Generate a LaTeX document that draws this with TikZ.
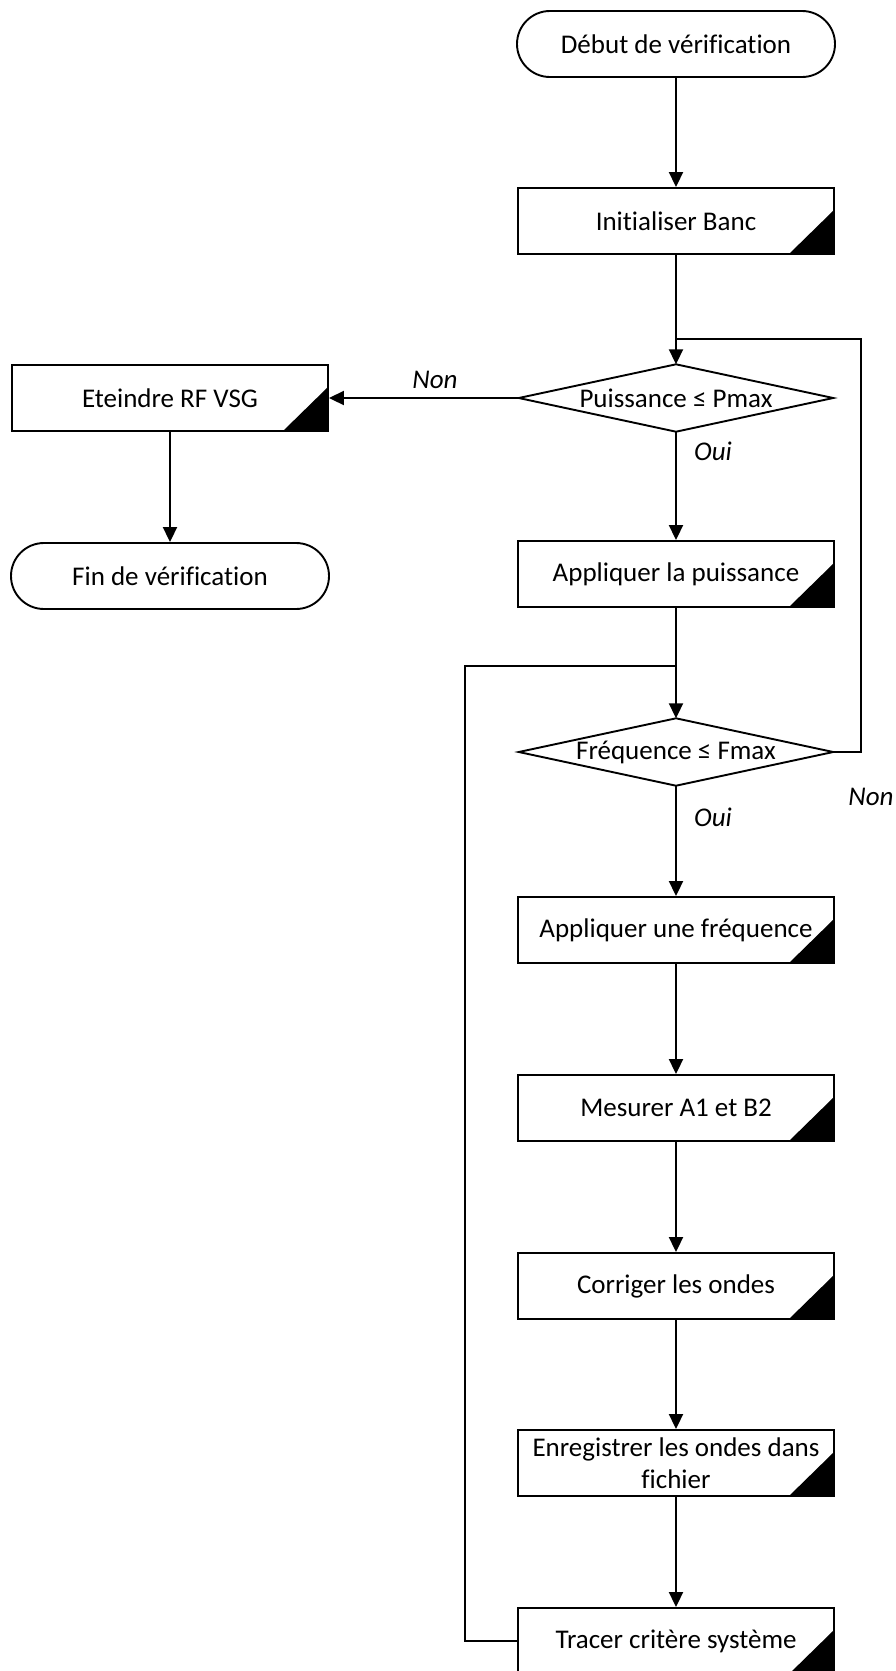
\documentclass[tikz,border=0pt]{standalone}
\usepackage{fontspec}
\setmainfont[Ligatures=NoCommon]{Carlito}
\usetikzlibrary{arrows.meta}
\tikzset{
  base/.style={draw=black, line width=1.9pt, fill=white, inner sep=0pt, align=center,
    font=\fontsize{27}{32}\selectfont},
  proc/.style={base, rectangle, minimum width=316pt, minimum height=66pt,
    path picture={\fill[black] (path picture bounding box.south east) -- ++(-45pt,0pt) -- ++(45pt,44pt) -- cycle;}},
  term/.style={base, rectangle, rounded corners=33pt, minimum width=318pt, minimum height=66pt},
  decision/.style={inner sep=0pt, minimum width=314pt, minimum height=67pt, font=\fontsize{27}{32}\selectfont},
  conn/.style={line width=1.9pt, -{Triangle[length=15pt,width=14pt]}},
  line/.style={line width=1.9pt},
  lab/.style={font=\fontsize{27}{32}\selectfont\itshape, inner sep=0pt}
}
\begin{document}
\begin{tikzpicture}[x=1pt,y=-1pt]
\useasboundingbox (0,0) rectangle (896,1671);
\clip (0,0) rectangle (896,1671);
\node[term] (start) at (676,44) {Début de vérification};
\node[proc] (init) at (676,221) {Initialiser Banc};
\node[decision] (pd) at (676,398) {Puissance ≤ Pmax};
\draw[line] (pd.west) -- (pd.north) -- (pd.east) -- (pd.south) -- cycle;
\node[proc] (off) at (170,398) {Eteindre RF VSG};
\node[term] (fin) at (170,576) {Fin de vérification};
\node[proc] (ap) at (676,574) {Appliquer la puissance};
\node[decision] (fd) at (676,752) {Fréquence ≤ Fmax};
\draw[line] (fd.west) -- (fd.north) -- (fd.east) -- (fd.south) -- cycle;
\node[proc] (af) at (676,930) {Appliquer une fréquence};
\node[proc] (mes) at (676,1108) {Mesurer A1 et B2};
\node[proc] (cor) at (676,1286) {Corriger les ondes};
\node[proc] (enr) at (676,1463) {Enregistrer les ondes dans\\fichier};
\node[proc] (tr) at (676,1641) {Tracer critère système};

\coordinate (j1) at (676,339);
\coordinate (r1) at (861,339);
\coordinate (r2) at (861,752);
\coordinate (j2) at (676,666);
\coordinate (l1) at (465,666);
\coordinate (l2) at (465,1641);

\draw[conn] (start) -- (init);
\draw[conn] (init) -- (pd.north);
\draw[conn] (pd.west) -- (off.east);
\draw[conn] (off) -- (fin);
\draw[conn] (pd.south) -- (ap.north);
\draw[conn] (ap) -- (fd.north);
\draw[conn] (fd.south) -- (af.north);
\draw[conn] (af) -- (mes);
\draw[conn] (mes) -- (cor);
\draw[conn] (cor) -- (enr);
\draw[conn] (enr) -- (tr);
\draw[line] (fd.east) -- (r2) -- (r1) -- (j1);
\draw[line] (tr.west) -- (l2) -- (l1) -- (j2);

\node[lab] (non1) at (435,380) {Non};
\node[lab] (oui1) at (713,451) {Oui};
\node[lab] (non2) at (871,797) {Non};
\node[lab] (oui2) at (713,817) {Oui};
\end{tikzpicture}
\end{document}
